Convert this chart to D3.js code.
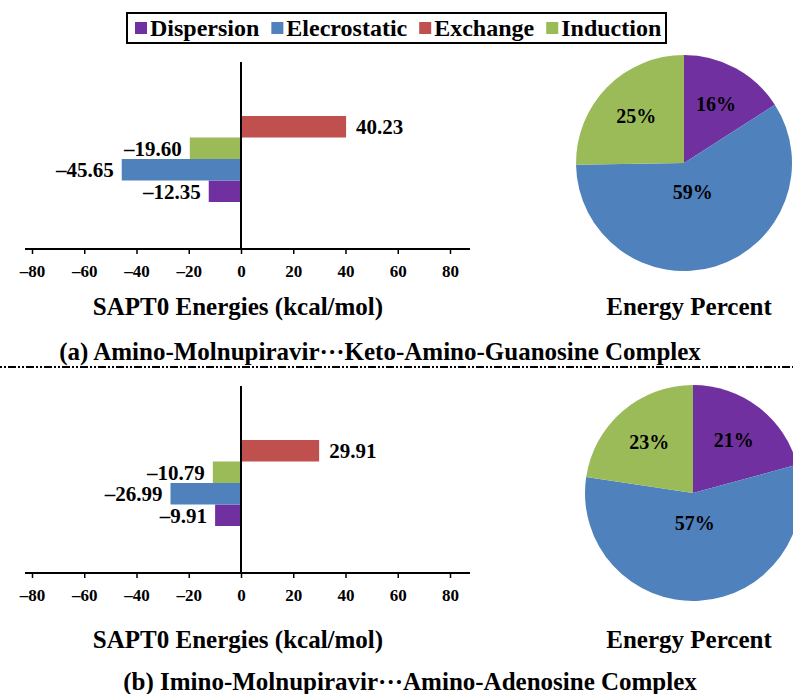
<!DOCTYPE html>
<html>
<head>
<meta charset="utf-8">
<script src="https://cdn.jsdelivr.net/npm/d3@7"></script>
<style>
  body { margin: 0; background: #fff; }
  svg text { font-family: 'Liberation Serif', 'DejaVu Serif'; font-weight: bold; fill: #000; }
</style>
</head>
<body>
<div id="chart"></div>
<script>
// data
const components = ["Dispersion", "Electrostatic", "Exchange", "Induction"];
const legendLabels = ["Dispersion", "Elecrostatic", "Exchange", "Induction"];
const colors = ["#7030a0", "#4f81bd", "#c0504d", "#9bbb59"];
const barOrder = ["Exchange", "Induction", "Electrostatic", "Dispersion"]; // top to bottom
const pieOrder = ["Dispersion", "Electrostatic", "Induction"];          // clockwise from 12 o'clock
const energiesA = [-12.35, -45.65, 40.23, -19.60];
const energiesB = [-9.91, -26.99, 29.91, -10.79];
const xTicks = [-80, -60, -40, -20, 0, 20, 40, 60, 80];
const axisTitle = "SAPT0 Energies (kcal/mol)";
const pieTitle = "Energy Percent";
const captionA = "(a) Amino-Molnupiravir···Keto-Amino-Guanosine Complex";
const captionB = "(b) Imino-Molnupiravir···Amino-Adenosine Complex";

const W = 793, H = 694;
const FONT = "'Liberation Serif', 'DejaVu Serif'";
const color = d3.scaleOrdinal().domain(components).range(colors);
const fmt = v => (v < 0 ? "–" : "") + Math.abs(v).toFixed(2);

const svg = d3.select("#chart")
  .append("svg")
    .attr("width", W)
    .attr("height", H);

// legend
const legend = svg.append("g");
legend.append("rect")
  .attr("x", 127).attr("y", 13)
  .attr("width", 539).attr("height", 30)
  .attr("fill", "#fff")
  .attr("stroke", "#000")
  .attr("stroke-width", 2);

let lx = 135;
components.forEach((c, i) => {
  legend.append("rect")
    .attr("x", lx).attr("y", 22)
    .attr("width", 12).attr("height", 12)
    .attr("fill", color(c));
  const t = legend.append("text")
    .attr("x", lx + 15).attr("y", 36)
    .attr("font-family", FONT)
    .style("font-size", "24px")
    .text(legendLabels[i]);
  lx += 15 + t.node().getComputedTextLength() + 12;
});

// one panel = bar chart + pie + captions
const panels = [
  { values: energiesA, caption: captionA, top: 62, axisY: 249, bars: [116, 202],
    pieX: 684, pieY: 163, titleY: 315, captionY: 360, captionX: 380 },
  { values: energiesB, caption: captionB, top: 386, axisY: 573, bars: [440, 526],
    pieX: 693, pieY: 493, titleY: 648, captionY: 690, captionX: 410 }
];

panels.forEach(p => {
  const data = components.map((c, i) => ({ name: c, value: p.values[i] }));

  const x = d3.scaleLinear().domain([-80, 80]).range([32, 450]);
  const y = d3.scaleBand().domain(barOrder).range(p.bars).padding(0);

  const g = svg.append("g").attr("font-family", FONT);

  // bars
  g.selectAll(".bar")
    .data(data)
    .join("rect")
      .attr("class", "bar")
      .attr("x", d => x(Math.min(0, d.value)))
      .attr("y", d => y(d.name))
      .attr("width", d => Math.abs(x(d.value) - x(0)))
      .attr("height", y.bandwidth())
      .attr("fill", d => color(d.name));

  // value labels
  g.selectAll(".val")
    .data(data)
    .join("text")
      .attr("class", "val")
      .attr("x", d => d.value < 0 ? x(d.value) - 8 : x(d.value) + 10)
      .attr("y", d => y(d.name) + y.bandwidth() / 2)
      .attr("dy", "0.35em")
      .attr("text-anchor", d => d.value < 0 ? "end" : "start")
      .style("font-size", "21px")
      .text(d => fmt(d.value));

  // x axis
  const ax = g.append("g")
    .attr("transform", `translate(0,${p.axisY})`)
    .call(d3.axisBottom(x)
      .tickValues(xTicks)
      .tickSize(5)
      .tickPadding(11)
      .tickFormat(d => d < 0 ? "–" + (-d) : d));
  ax.attr("font-family", FONT).attr("font-size", null);
  ax.select(".domain").remove();
  ax.selectAll(".tick line").attr("stroke", "#000").attr("stroke-width", 1.5);
  ax.selectAll(".tick text")
    .style("font-size", "17px")
    .attr("fill", "#000");
  g.append("line")
    .attr("x1", x(-80) - 7).attr("x2", x(80) + 20)
    .attr("y1", p.axisY).attr("y2", p.axisY)
    .attr("stroke", "#000").attr("stroke-width", 2);

  // vertical zero line
  g.append("line")
    .attr("x1", x(0)).attr("x2", x(0))
    .attr("y1", p.top).attr("y2", p.axisY)
    .attr("stroke", "#000").attr("stroke-width", 2);

  g.append("text")
    .attr("x", 238).attr("y", p.titleY)
    .attr("text-anchor", "middle")
    .style("font-size", "25px")
    .text(axisTitle);

  // pie of the attractive terms
  const pieData = pieOrder.map(n => data.find(d => d.name === n));
  const total = d3.sum(pieData, d => Math.abs(d.value));
  const r = 108;
  const arcs = d3.pie().sort(null).value(d => Math.abs(d.value))(pieData);
  const arc = d3.arc().innerRadius(0).outerRadius(r);

  const pg = g.append("g").attr("transform", `translate(${p.pieX},${p.pieY})`);
  pg.selectAll("path")
    .data(arcs)
    .join("path")
      .attr("d", arc)
      .attr("fill", d => color(d.data.name));

  pg.selectAll("text")
    .data(arcs)
    .join("text")
      .attr("transform", d => {
        const share = (d.endAngle - d.startAngle) / (2 * Math.PI);
        const rr = share > 0.5 ? r * 0.28 : r * 0.62;
        const a = (d.startAngle + d.endAngle) / 2;
        return `translate(${rr * Math.sin(a)},${-rr * Math.cos(a)})`;
      })
      .attr("dy", "0.35em")
      .attr("text-anchor", "middle")
      .style("font-size", "20px")
      .text(d => Math.round(100 * Math.abs(d.data.value) / total) + "%");

  g.append("text")
    .attr("x", 689).attr("y", p.titleY)
    .attr("text-anchor", "middle")
    .style("font-size", "25px")
    .text(pieTitle);

  g.append("text")
    .attr("x", p.captionX).attr("y", p.captionY)
    .attr("text-anchor", "middle")
    .style("font-size", "25px")
    .text(p.caption);
});

// dash-dot-dot separator between the two panels
svg.append("line")
  .attr("x1", 0).attr("x2", W)
  .attr("y1", 367).attr("y2", 367)
  .attr("stroke", "#000")
  .attr("stroke-width", 2)
  .attr("stroke-dasharray", "2,2,2,2,8,2");
</script>
</body>
</html>
